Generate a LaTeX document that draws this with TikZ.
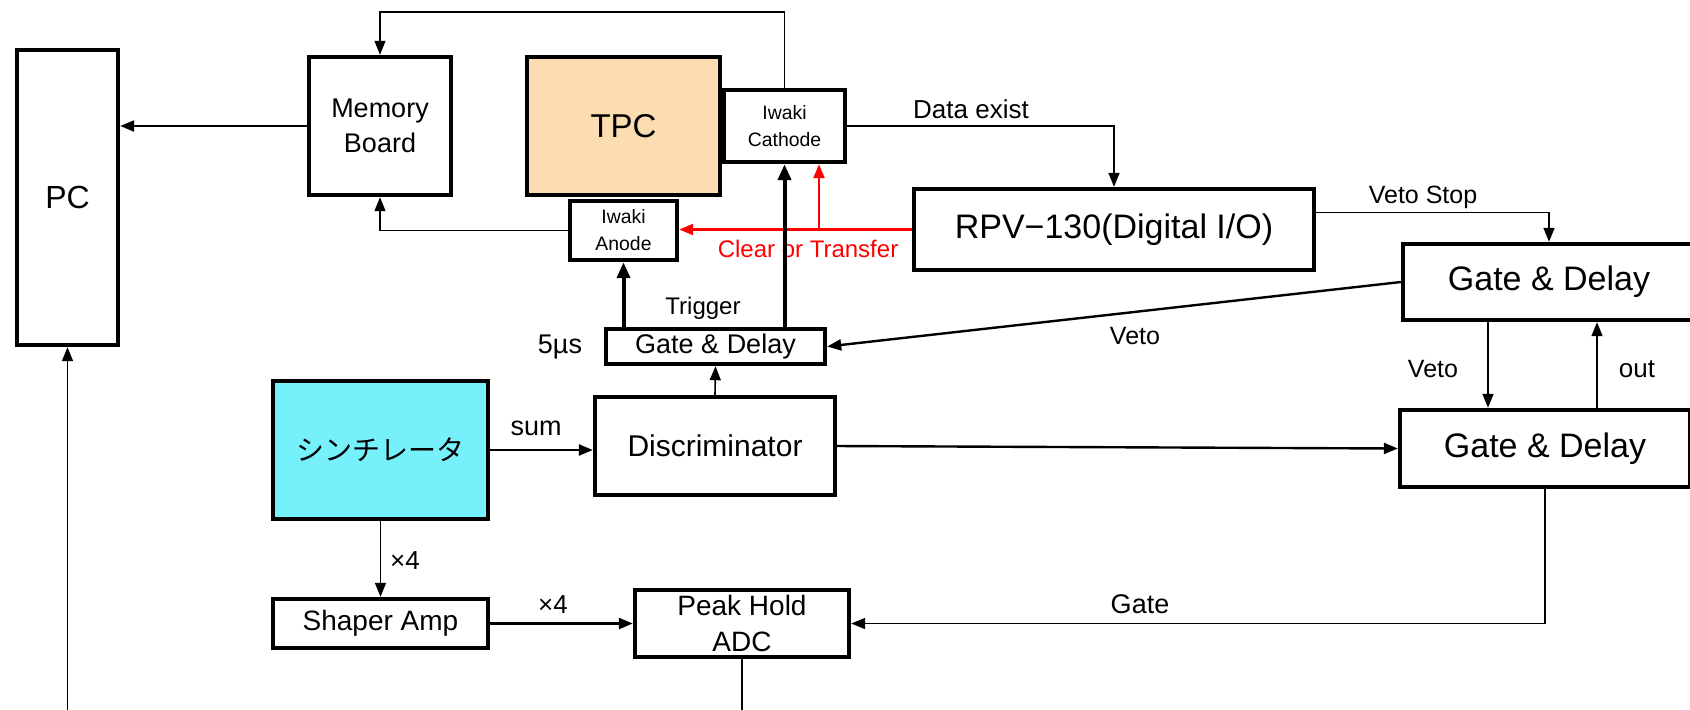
\documentclass[tikz,border=0pt]{standalone}
\usepackage{fontspec}
\setmainfont{Liberation Sans}
\newfontfamily\jpfont{Noto Sans CJK JP}
\usetikzlibrary{
  arrows.meta,
  calc,
  positioning
}
\definecolor{tpcfill}{RGB}{252,221,178}
\definecolor{scintfill}{RGB}{118,241,252}

\begin{document}
\begin{tikzpicture}[x=0.5pt, y=-0.5pt,
    box/.style = {draw, line width=2.2pt, inner sep=0pt, align=center},
    boxsize/.style 2 args = {minimum width=#1*0.5pt, minimum height=#2*0.5pt},
    fs/.style = {font=\fontsize{#1}{#1}\selectfont},
    wire/.style = {line width=0.8pt, -{Triangle[length=7pt,width=5.5pt]}},
    bus/.style = {line width=2pt, -{Triangle[length=8pt,width=6.5pt]}},
    lbl/.style = {inner sep=0pt}]
  \useasboundingbox (0,0) rectangle (1690,709);

  % blocks
  \node[box, boxsize={101}{295}, fs=16] (pc) at (67.5,197.5) {PC};
  \node[box, boxsize={142}{138}, font=\fontsize{13.5}{17.5}\selectfont] (memory) at (380,126) {Memory\\Board};
  \node[box, boxsize={193}{138}, fill=tpcfill, fs=16.5] (tpc) at (623.5,126) {TPC};
  \node[box, boxsize={121}{72}, font=\fontsize{9.7}{13.5}\selectfont] (cathode) at (784.5,126) {Iwaki\\Cathode};
  \node[box, boxsize={107}{59}, font=\fontsize{9.7}{13.5}\selectfont] (anode) at (623.5,230.5) {Iwaki\\Anode};
  \node[box, boxsize={219}{35}, fs=13.5] (gdsmall) at (715.5,346.5) {Gate \& Delay};
  \node[box, boxsize={400}{81}, fs=17] (rpv) at (1114,229.5) {RPV−130(Digital I/O)};
  \node[box, boxsize={292}{76}, fs=17] (gd1) at (1549,282) {Gate \& Delay};
  \node[box, boxsize={290}{77}, fs=17] (gd2) at (1545,448.5) {Gate \& Delay};
  \node[box, boxsize={240}{98}, fs=15] (disc) at (715,446) {Discriminator};
  \node[box, boxsize={215}{138}, fill=scintfill, font=\jpfont\fontsize{14}{16}\selectfont] (scint) at (380.5,450) {シンチレータ};
  \node[box, boxsize={215}{49}, fs=14] (shaper) at (380.5,623.5) {Shaper Amp};
  \node[box, boxsize={214}{67}, font=\fontsize{14}{18}\selectfont] (peak) at (742,623.5) {Peak Hold\\ADC};

  % labels
  \node[lbl, fs=13] (dataexist) at (971,109) {Data exist};
  \node[lbl, fs=12, text=red] (clear) at (808,249) {Clear or Transfer};
  \node[lbl, fs=12.5] (vetostop) at (1423,197) {Veto Stop};
  \node[lbl, fs=12.5] (veto) at (1135,336) {Veto};
  \node[lbl, fs=12] (trigger) at (703,308) {Trigger};
  \node[lbl, fs=13.5] (width) at (560,347) {5µs};
  \node[lbl, fs=12.5] (vetodown) at (1433,369) {Veto};
  \node[lbl, fs=13] (out) at (1637,369) {out};
  \node[lbl, fs=13.5] (sum) at (536,428) {sum};
  \node[lbl, fs=13] (fourch) at (405,561) {×4};
  \node[lbl, fs=13] (fourout) at (553,605) {×4};
  \node[lbl, fs=13.5] (gate) at (1140,604) {Gate};

  % free ends
  \coordinate (loop) at (0,12);
  \coordinate (pcin) at (67.5,712);
  \coordinate (adcout) at (0,712);
  \coordinate (redsplit) at (819,229.5);
  \coordinate (vetotap) at (1488,0);
  \coordinate (outtap) at (1597,0);

  % connections
  \draw[wire, line width=1.1pt] (memory.west) -- (memory.west -| pc.east);
  \draw[wire] (pcin) -- (pc.south);
  \draw[wire, line width=0.6pt] (anode.west) -| (memory.south);
  \draw[wire, line width=0.6pt] (cathode.north) -- (cathode.north |- loop) -| (memory.north);
  \draw[wire] (cathode.east) -| (rpv.north);
  \draw[wire, red, line width=1.2pt] (rpv.west) -- (rpv.west -| anode.east);
  \draw[wire, red, line width=1.2pt] (redsplit) -- (redsplit |- cathode.south);
  \draw[bus] (anode.south |- gdsmall.north) -- (anode.south);
  \draw[bus] (cathode.south |- gdsmall.north) -- (cathode.south);
  \draw[wire] (disc.north) -- (gdsmall.south);
  \draw[wire] ($(rpv.north east)!0.3!(rpv.south east)$) -| (gd1.north);
  \draw[wire, line width=1.2pt] (gd1.west) -- (gdsmall.east);
  \draw[wire] (vetotap |- gd1.south) -- (vetotap |- gd2.north);
  \draw[wire] (outtap |- gd2.north) -- (outtap |- gd1.south);
  \draw[wire, line width=1.2pt] (disc.east) -- (gd2.west);
  \draw[wire, line width=1.2pt] (scint.east) -- (scint.east -| disc.west);
  \draw[wire] (scint.south) -- (shaper.north);
  \draw[wire, line width=1.2pt] (shaper.east) -- (shaper.east -| peak.west);
  \draw[line width=0.8pt] (peak.south) -- (peak.south |- adcout);
  \draw[wire] (gd2.south) |- (peak.east);
\end{tikzpicture}
\end{document}
